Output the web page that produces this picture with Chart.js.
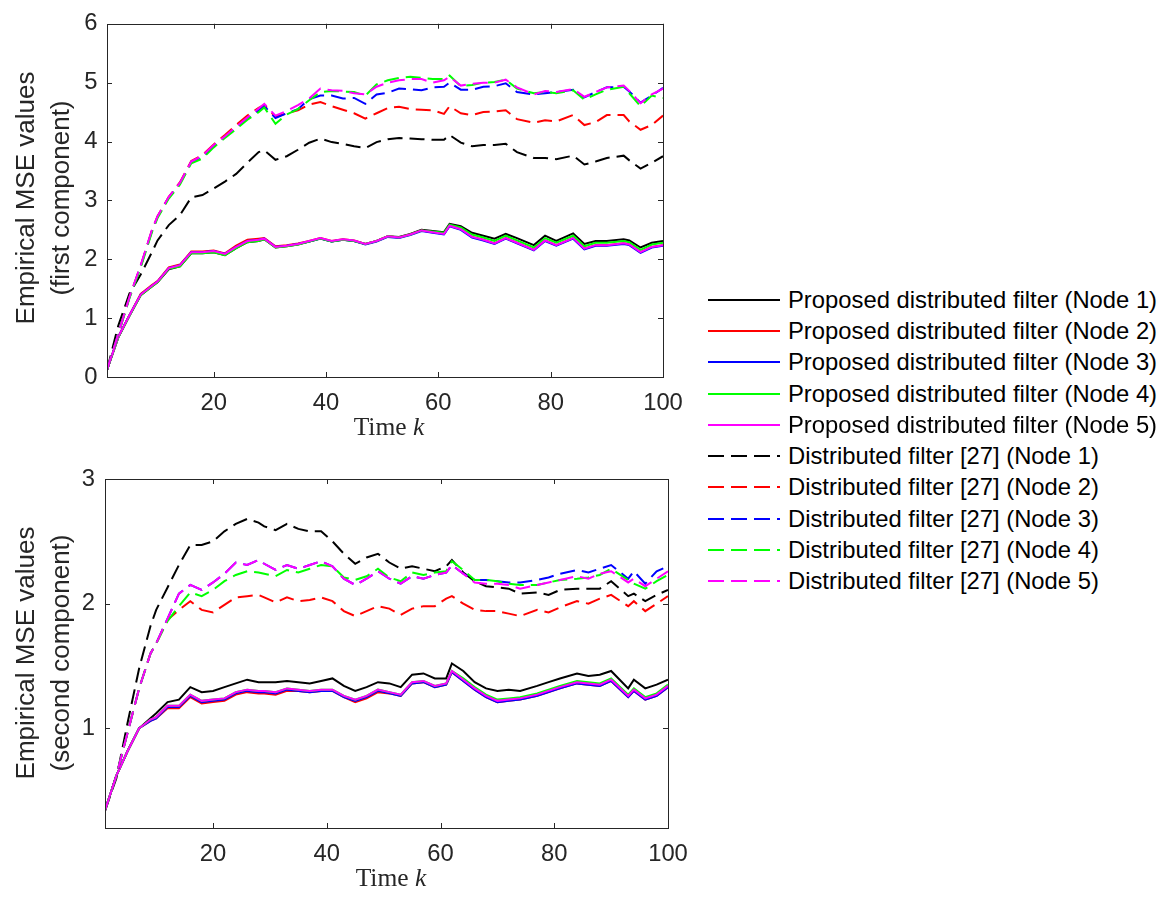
<!DOCTYPE html>
<html>
<head>
<meta charset="utf-8">
<script src="https://cdn.jsdelivr.net/npm/chart.js@4.4.1/dist/chart.umd.min.js"></script>
<style>
  body { margin: 0; width: 1166px; height: 897px; background: #fff; position: relative; overflow: hidden;
         font-family: "Liberation Sans", Arial, sans-serif; }
  canvas { position: absolute; }
  #top-chart { left: 0; top: 0; }
  #bottom-chart { left: 0; top: 440px; }
  .ytitle { position: absolute; width: 320px; height: 70px; transform: rotate(-90deg); text-align: center;
            font-size: 26px; line-height: 35px; color: #262626; white-space: nowrap; }
  .xtitle { position: absolute; width: 200px; text-align: center; font-family: "Liberation Serif", serif;
            font-size: 25.5px; line-height: 30px; color: #262626; white-space: nowrap; }
  #legend { position: absolute; left: 708px; top: 284px; }
  .legend-row { height: 31.3px; display: flex; align-items: center; font-size: 23.8px; color: #000; white-space: nowrap; }
  .legend-row svg { margin-right: 8px; flex: none; }
</style>
</head>
<body>
<canvas id="top-chart" width="700" height="440"></canvas>
<canvas id="bottom-chart" width="700" height="457"></canvas>

<div class="ytitle" style="left:-117px; top:163px;">Empirical MSE values<br>(first component)</div>
<div class="xtitle" style="left:289px; top:412px;">Time <i>k</i></div>
<div class="ytitle" style="left:-117px; top:618px;">Empirical MSE values<br>(second component)</div>
<div class="xtitle" style="left:291px; top:863px;">Time <i>k</i></div>
<div id="legend"></div>

<script>
// time steps the values were read at
const K = [1, 3, 5, 7, 9, 10, 12, 14, 16, 18, 20, 22, 24, 26, 28, 29, 31, 33, 35, 37, 39, 41, 43, 45, 47, 49, 51,
  53, 55, 57, 59, 61, 62, 64, 66, 68, 70, 72, 74, 77, 79, 81, 84, 86, 88, 90, 93, 94, 96, 98, 100];

// first component - proposed filter, nodes 1..5
const TOP_P1 = [0.12,0.67,1.04,1.39,1.54,1.61,1.83,1.88,2.10,2.10,2.12,2.07,2.19,2.29,2.31,2.34,2.20,2.22,2.25,2.30,2.35,2.30,2.33,2.31,2.26,2.31,2.39,2.38,2.43,2.50,2.48,2.46,2.60,2.56,2.45,2.40,2.35,2.43,2.36,2.24,2.40,2.31,2.44,2.26,2.31,2.31,2.34,2.32,2.20,2.28,2.31];
const TOP_P2 = [0.12,0.68,1.05,1.41,1.56,1.63,1.86,1.91,2.13,2.13,2.15,2.10,2.23,2.33,2.35,2.36,2.22,2.24,2.27,2.31,2.36,2.31,2.34,2.32,2.26,2.31,2.39,2.37,2.42,2.49,2.46,2.43,2.57,2.51,2.38,2.33,2.27,2.36,2.28,2.16,2.32,2.24,2.36,2.18,2.24,2.24,2.27,2.25,2.12,2.21,2.24];
const TOP_P3 = [0.12,0.68,1.05,1.40,1.55,1.62,1.85,1.90,2.12,2.12,2.14,2.09,2.21,2.31,2.33,2.35,2.21,2.23,2.26,2.30,2.35,2.30,2.33,2.31,2.25,2.30,2.38,2.36,2.41,2.48,2.45,2.42,2.56,2.50,2.37,2.32,2.26,2.35,2.27,2.15,2.31,2.23,2.35,2.17,2.23,2.23,2.26,2.24,2.11,2.20,2.23];
const TOP_P4 = [0.12,0.67,1.04,1.39,1.54,1.61,1.84,1.88,2.10,2.10,2.12,2.07,2.19,2.29,2.31,2.34,2.20,2.22,2.25,2.30,2.35,2.30,2.33,2.31,2.26,2.31,2.39,2.37,2.42,2.49,2.47,2.45,2.59,2.54,2.42,2.37,2.31,2.40,2.32,2.20,2.36,2.28,2.40,2.22,2.28,2.28,2.31,2.29,2.16,2.25,2.28];
const TOP_P5 = [0.12,0.68,1.05,1.40,1.55,1.62,1.85,1.90,2.12,2.12,2.14,2.09,2.21,2.31,2.33,2.35,2.21,2.23,2.26,2.31,2.36,2.31,2.34,2.32,2.26,2.31,2.39,2.37,2.42,2.49,2.46,2.43,2.57,2.51,2.38,2.33,2.27,2.36,2.28,2.16,2.32,2.24,2.36,2.18,2.24,2.24,2.27,2.25,2.12,2.21,2.24];

// first component - distributed filter [27], nodes 1..5
const TOP_D1 = [0.12,0.87,1.42,1.74,2.12,2.32,2.58,2.75,3.05,3.09,3.20,3.32,3.45,3.64,3.82,3.85,3.69,3.75,3.86,3.98,4.05,3.99,3.96,3.92,3.89,3.99,4.04,4.06,4.05,4.04,4.03,4.03,4.11,3.98,3.92,3.94,3.94,3.96,3.82,3.72,3.72,3.70,3.76,3.61,3.66,3.72,3.76,3.68,3.54,3.64,3.75];
const TOP_D2 = [0.12,0.73,1.36,1.89,2.49,2.73,3.06,3.31,3.67,3.77,3.95,4.11,4.28,4.44,4.57,4.62,4.42,4.48,4.53,4.63,4.67,4.60,4.54,4.48,4.39,4.48,4.57,4.59,4.55,4.54,4.53,4.47,4.60,4.48,4.45,4.50,4.51,4.53,4.38,4.32,4.36,4.34,4.45,4.28,4.33,4.45,4.45,4.34,4.20,4.28,4.44];
const TOP_D3 = [0.12,0.73,1.35,1.88,2.48,2.72,3.05,3.29,3.65,3.74,3.92,4.08,4.23,4.39,4.53,4.60,4.40,4.48,4.55,4.72,4.78,4.78,4.73,4.74,4.64,4.80,4.83,4.90,4.89,4.87,4.92,4.93,5.00,4.88,4.88,4.93,4.94,4.99,4.84,4.80,4.82,4.84,4.88,4.75,4.84,4.92,4.93,4.85,4.66,4.78,4.91];
const TOP_D4 = [0.12,0.72,1.34,1.86,2.46,2.70,3.03,3.27,3.63,3.71,3.90,4.06,4.21,4.37,4.50,4.58,4.30,4.46,4.55,4.70,4.84,4.86,4.85,4.84,4.78,4.97,5.04,5.08,5.10,5.08,5.06,5.06,5.12,4.94,4.96,5.00,5.01,5.05,4.90,4.82,4.84,4.82,4.87,4.71,4.80,4.88,4.93,4.82,4.60,4.78,4.74];
const TOP_D5 = [0.12,0.73,1.36,1.90,2.50,2.73,3.06,3.30,3.66,3.76,3.94,4.09,4.25,4.41,4.56,4.64,4.44,4.52,4.62,4.73,4.90,4.87,4.86,4.82,4.80,4.93,5.00,5.04,5.06,5.06,5.00,5.04,5.10,4.95,4.98,5.00,5.00,5.05,4.92,4.80,4.86,4.84,4.89,4.76,4.84,4.92,4.95,4.86,4.65,4.80,4.90];

// second component - proposed filter, nodes 1..5
const BOT_P1 = [0.34,0.62,0.82,1.00,1.08,1.12,1.21,1.23,1.33,1.29,1.30,1.33,1.36,1.39,1.37,1.37,1.37,1.38,1.37,1.36,1.38,1.40,1.34,1.30,1.33,1.37,1.36,1.33,1.43,1.44,1.40,1.40,1.52,1.46,1.37,1.32,1.30,1.31,1.30,1.34,1.37,1.40,1.44,1.42,1.43,1.46,1.32,1.39,1.32,1.35,1.39];
const BOT_P2 = [0.34,0.62,0.82,1.00,1.06,1.08,1.16,1.16,1.25,1.20,1.21,1.22,1.27,1.29,1.28,1.28,1.27,1.30,1.30,1.29,1.30,1.30,1.25,1.21,1.24,1.29,1.28,1.26,1.36,1.37,1.33,1.35,1.45,1.38,1.31,1.25,1.21,1.22,1.23,1.26,1.29,1.32,1.36,1.35,1.34,1.38,1.25,1.30,1.23,1.26,1.33];
const BOT_P3 = [0.34,0.62,0.82,1.00,1.06,1.08,1.17,1.17,1.26,1.21,1.22,1.23,1.28,1.30,1.29,1.29,1.28,1.31,1.30,1.29,1.30,1.30,1.25,1.22,1.25,1.30,1.28,1.26,1.36,1.37,1.33,1.35,1.45,1.38,1.31,1.25,1.21,1.22,1.23,1.26,1.29,1.32,1.36,1.35,1.34,1.38,1.25,1.30,1.23,1.26,1.33];
const BOT_P4 = [0.34,0.62,0.82,1.00,1.07,1.09,1.18,1.18,1.27,1.22,1.23,1.24,1.29,1.31,1.30,1.30,1.29,1.32,1.31,1.30,1.31,1.31,1.26,1.23,1.26,1.31,1.29,1.27,1.37,1.38,1.34,1.36,1.46,1.40,1.33,1.27,1.23,1.24,1.25,1.28,1.31,1.34,1.38,1.37,1.36,1.40,1.27,1.32,1.25,1.28,1.35];
const BOT_P5 = [0.34,0.62,0.82,1.00,1.07,1.09,1.18,1.18,1.27,1.22,1.23,1.24,1.29,1.31,1.30,1.30,1.29,1.32,1.31,1.30,1.31,1.31,1.26,1.23,1.26,1.31,1.29,1.27,1.37,1.38,1.34,1.36,1.46,1.39,1.32,1.26,1.22,1.23,1.24,1.27,1.30,1.33,1.37,1.36,1.35,1.39,1.26,1.31,1.24,1.27,1.34];

// second component - distributed filter [27], nodes 1..5
const BOT_D1 = [0.34,0.60,1.05,1.48,1.82,1.95,2.13,2.31,2.47,2.47,2.50,2.58,2.64,2.68,2.65,2.62,2.59,2.64,2.60,2.58,2.58,2.50,2.40,2.32,2.37,2.40,2.33,2.28,2.30,2.28,2.26,2.30,2.35,2.25,2.18,2.14,2.13,2.12,2.08,2.09,2.07,2.11,2.12,2.12,2.12,2.18,2.06,2.08,2.02,2.07,2.11];
const BOT_D2 = [0.34,0.62,0.97,1.32,1.60,1.68,1.87,1.95,2.02,1.95,1.93,1.99,2.05,2.06,2.07,2.05,2.01,2.05,2.02,2.03,2.05,2.02,1.94,1.90,1.94,1.98,1.96,1.91,1.96,1.98,1.98,2.04,2.06,2.00,1.95,1.94,1.94,1.92,1.90,1.95,1.93,1.97,2.02,2.00,2.04,2.07,1.98,2.02,1.94,2.00,2.06];
const BOT_D3 = [0.34,0.62,0.97,1.32,1.60,1.68,1.88,2.08,2.15,2.11,2.17,2.24,2.33,2.31,2.35,2.32,2.27,2.31,2.28,2.31,2.34,2.30,2.20,2.15,2.20,2.26,2.20,2.16,2.22,2.20,2.23,2.25,2.31,2.24,2.19,2.19,2.18,2.17,2.17,2.19,2.21,2.24,2.27,2.25,2.28,2.31,2.20,2.26,2.16,2.26,2.30];
const BOT_D4 = [0.34,0.62,0.97,1.32,1.60,1.68,1.86,1.98,2.09,2.06,2.11,2.18,2.23,2.26,2.25,2.24,2.22,2.27,2.25,2.28,2.31,2.30,2.21,2.19,2.22,2.28,2.21,2.18,2.25,2.23,2.25,2.26,2.34,2.27,2.19,2.19,2.18,2.16,2.15,2.15,2.17,2.19,2.20,2.21,2.23,2.28,2.19,2.16,2.12,2.18,2.23];
const BOT_D5 = [0.34,0.62,0.97,1.32,1.60,1.68,1.88,2.08,2.15,2.11,2.17,2.24,2.33,2.31,2.35,2.32,2.27,2.31,2.28,2.31,2.34,2.30,2.20,2.15,2.20,2.26,2.20,2.16,2.22,2.20,2.23,2.25,2.31,2.24,2.17,2.16,2.16,2.15,2.12,2.15,2.17,2.19,2.22,2.20,2.24,2.26,2.17,2.20,2.14,2.20,2.26];

const X_TICKS = [20, 40, 60, 80, 100];
const TOP_Y_TICKS = [0, 1, 2, 3, 4, 5, 6];
const BOT_Y_TICKS = [1, 2, 3];

const NODE_COLORS = ["#000000", "#ff0000", "#0000ff", "#00ff00", "#ff00ff"];
const PROPOSED_LABELS = [1, 2, 3, 4, 5].map(n => `Proposed distributed filter (Node ${n})`);
const BASELINE_LABELS = [1, 2, 3, 4, 5].map(n => `Distributed filter [27] (Node ${n})`);

const AXIS_COLOR = "#262626";
const DASH = [15, 7];

Chart.defaults.font.family = '"Liberation Sans", Arial, sans-serif';
Chart.defaults.color = AXIS_COLOR;

function toPoints(values) {
  return values.map((v, i) => ({ x: K[i], y: v }));
}

function buildDatasets(proposed, baseline) {
  const sets = [];
  // matlab draws in plot order, last one on top -> lower "order" for later series
  proposed.forEach((vals, i) => sets.push({
    label: PROPOSED_LABELS[i],
    data: toPoints(vals),
    borderColor: NODE_COLORS[i],
    borderWidth: 2,
    pointRadius: 0,
    tension: 0,
    order: 20 - i,
  }));
  baseline.forEach((vals, i) => sets.push({
    label: BASELINE_LABELS[i],
    data: toPoints(vals),
    borderColor: NODE_COLORS[i],
    borderWidth: 2,
    borderDash: DASH,
    pointRadius: 0,
    tension: 0,
    order: 15 - i,
  }));
  return sets;
}

// box round the axes with inward ticks on all four sides
const boxPlugin = {
  id: "box",
  afterDatasetsDraw(chart) {
    const { ctx, chartArea: a, scales: { x, y } } = chart;
    const len = 5;
    ctx.save();
    ctx.strokeStyle = AXIS_COLOR;
    ctx.lineWidth = 1;
    ctx.beginPath();
    x.ticks.forEach(t => {
      const px = Math.round(x.getPixelForValue(t.value)) + 0.5;
      ctx.moveTo(px, a.bottom); ctx.lineTo(px, a.bottom - len);
      ctx.moveTo(px, a.top); ctx.lineTo(px, a.top + len);
    });
    y.ticks.forEach(t => {
      const py = Math.round(y.getPixelForValue(t.value)) + 0.5;
      ctx.moveTo(a.left, py); ctx.lineTo(a.left + len, py);
      ctx.moveTo(a.right, py); ctx.lineTo(a.right - len, py);
    });
    ctx.stroke();
    ctx.strokeRect(Math.round(a.left) + 0.5, Math.round(a.top) + 0.5,
                   Math.round(a.right - a.left), Math.round(a.bottom - a.top));
    ctx.restore();
  },
};

function makeChart(id, datasets, cfg) {
  const ctx = document.getElementById(id).getContext("2d");
  return new Chart(ctx, {
    type: "line",
    data: { datasets },
    options: {
      responsive: false,
      animation: false,
      devicePixelRatio: 1,
      layout: { padding: { top: cfg.padTop, right: cfg.padRight, left: 0, bottom: 0 } },
      plugins: { legend: { display: false }, tooltip: { enabled: false } },
      scales: {
        x: {
          type: "linear",
          min: 1,
          max: 100,
          afterBuildTicks: s => { s.ticks = X_TICKS.map(v => ({ value: v })); },
          afterFit: s => { s.height = cfg.xHeight; },
          grid: { display: false, drawTicks: false },
          border: { display: false },
          ticks: { font: { size: 23.8 }, color: AXIS_COLOR, padding: 12, maxRotation: 0 },
        },
        y: {
          type: "linear",
          min: cfg.yMin,
          max: cfg.yMax,
          afterBuildTicks: s => { s.ticks = cfg.yTicks.map(v => ({ value: v })); },
          afterFit: s => { s.width = cfg.yWidth; },
          grid: { display: false, drawTicks: false },
          border: { display: false },
          ticks: { font: { size: 23.8 }, color: AXIS_COLOR, padding: cfg.yPad },
        },
      },
    },
    plugins: [boxPlugin],
  });
}

function buildLegend() {
  const box = document.getElementById("legend");
  const rows = [
    ...PROPOSED_LABELS.map((label, i) => ({ label, color: NODE_COLORS[i], dash: "" })),
    ...BASELINE_LABELS.map((label, i) => ({ label, color: NODE_COLORS[i], dash: "16 7" })),
  ];
  rows.forEach(r => {
    const row = document.createElement("div");
    row.className = "legend-row";
    const dashAttr = r.dash ? ` stroke-dasharray="${r.dash}"` : "";
    row.innerHTML = `<svg width="72" height="4"><line x1="0" y1="2" x2="72" y2="2" stroke="${r.color}" stroke-width="2"${dashAttr}/></svg>`;
    const span = document.createElement("span");
    span.textContent = r.label;
    row.appendChild(span);
    box.appendChild(row);
  });
}

makeChart("top-chart",
  buildDatasets([TOP_P1, TOP_P2, TOP_P3, TOP_P4, TOP_P5], [TOP_D1, TOP_D2, TOP_D3, TOP_D4, TOP_D5]),
  { padTop: 19, padRight: 37, xHeight: 63, yWidth: 107, yPad: 9.5, yMin: 0, yMax: 6, yTicks: TOP_Y_TICKS });

makeChart("bottom-chart",
  buildDatasets([BOT_P1, BOT_P2, BOT_P3, BOT_P4, BOT_P5], [BOT_D1, BOT_D2, BOT_D3, BOT_D4, BOT_D5]),
  { padTop: 39, padRight: 32, xHeight: 69, yWidth: 105, yPad: 10, yMin: 0.2, yMax: 3, yTicks: BOT_Y_TICKS });

buildLegend();
</script>
</body>
</html>
